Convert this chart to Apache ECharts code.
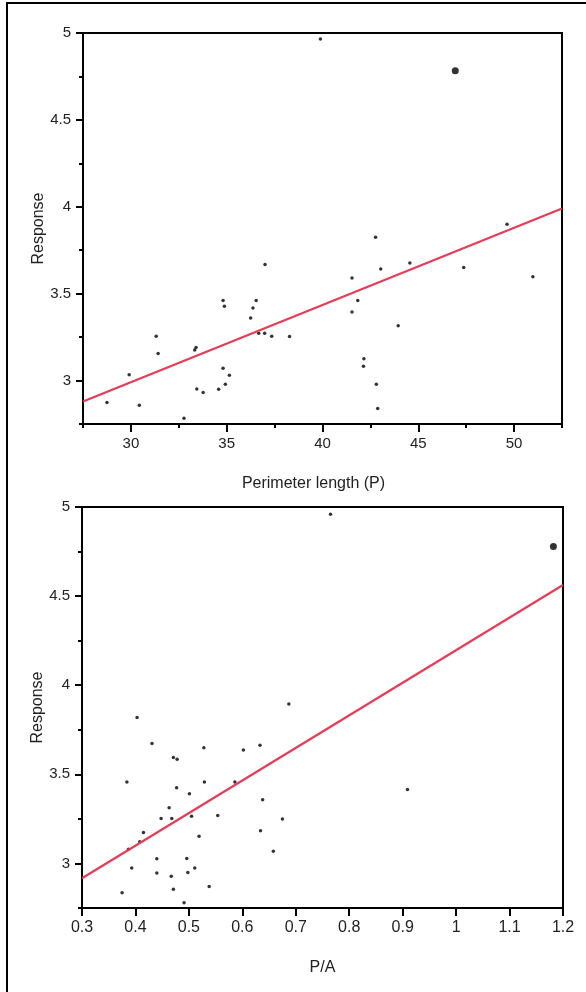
<!DOCTYPE html>
<html>
<head>
<meta charset="utf-8">
<script src="https://cdn.jsdelivr.net/npm/echarts@6/dist/echarts.min.js"></script>
<style>
html,body{margin:0;padding:0;background:#fff;}
#frame{position:absolute;left:6px;top:2px;width:700px;height:1100px;border:2px solid #000;box-sizing:border-box;}
#chart{position:absolute;left:0;top:0;width:586px;height:992px;}
</style>
</head>
<body>
<div id="frame"></div>
<div id="chart"></div>
<script>
// ---- Data ----
const perimeter = [28.75,29.91,30.44,31.32,31.42,32.77,33.33,33.40,33.44,33.77,34.58,34.81,34.88,34.81,34.93,35.14,36.25,36.37,36.54,36.67,36.98,37.00,37.35,38.28,41.54,41.54,41.84,42.16,42.14,42.77,43.04,42.81,42.88,43.95,44.56,47.37,49.63,50.98,39.89];
const responseTop = [2.874,3.033,2.858,3.255,3.155,2.783,3.176,3.19,2.952,2.931,2.95,3.46,3.427,3.071,2.979,3.03,3.36,3.418,3.461,3.272,3.272,3.668,3.255,3.253,3.59,3.395,3.461,3.126,3.082,3.824,3.642,2.979,2.839,3.316,3.676,3.651,3.90,3.598,4.966];
const outlierTop = [46.93, 4.783];
const fitTop = [[27.5, 2.879], [52.5, 3.99]];

const paRatio = [0.687,0.403,0.431,0.528,0.633,0.602,0.471,0.478,0.384,0.529,0.586,0.477,0.501,0.638,0.463,0.448,0.468,0.505,0.554,0.675,0.415,0.634,0.408,0.519,0.387,0.658,0.440,0.496,0.393,0.511,0.440,0.498,0.467,0.538,0.375,0.471,0.491,0.909,0.765];
const responseBottom = [3.894,3.819,3.673,3.649,3.663,3.637,3.594,3.584,3.457,3.457,3.457,3.425,3.391,3.357,3.312,3.252,3.252,3.265,3.269,3.25,3.173,3.184,3.122,3.152,3.079,3.068,3.026,3.028,2.975,2.975,2.947,2.949,2.928,2.87,2.836,2.855,2.78,3.415,4.959];
const outlierBottom = [1.182, 4.778];
const fitBottom = [[0.3, 2.917], [1.2, 4.562]];

const yMajor = [3, 3.5, 4, 4.5, 5];
const yMinor = [2.75, 3.25, 3.75, 4.25, 4.75];
const xTopMajor = [30, 35, 40, 45, 50];
const xTopMinor = [27.5, 32.5, 37.5, 42.5, 47.5, 52.5];
const xBottomTicks = [0.3, 0.4, 0.5, 0.6, 0.7, 0.8, 0.9, 1, 1.1, 1.2];

// ---- Chart ----
const FONT = '"Liberation Sans", Arial, Helvetica, sans-serif';
const chart = echarts.init(document.getElementById('chart'), null, {renderer: 'canvas'});

function yAxes(gridIndex) {
  return [
    {gridIndex, type: 'value', min: 2.75, max: 5, position: 'left',
     axisLine: {show: true, lineStyle: {color: '#000', width: 2}},
     axisTick: {show: true, customValues: yMajor, length: 7, lineStyle: {color: '#000', width: 2}},
     axisLabel: {customValues: yMajor, margin: 12, color: '#222', fontSize: 15, fontFamily: FONT},
     splitLine: {show: false},
     name: 'Response', nameLocation: 'middle', nameGap: 36, nameRotate: 90, nameMoveOverlap: false,
     nameTextStyle: {color: '#222', fontSize: 16, fontFamily: FONT}},
    {gridIndex, type: 'value', min: 2.75, max: 5, position: 'left',
     axisLine: {show: false},
     axisTick: {show: true, customValues: yMinor, length: 4, lineStyle: {color: '#000', width: 2}},
     axisLabel: {show: false},
     splitLine: {show: false}}
  ];
}

const option = {
  animation: false,
  backgroundColor: 'transparent',
  grid: [
    {left: 83, top: 33, width: 479, height: 391, show: true, borderColor: '#000', borderWidth: 2, backgroundColor: 'transparent'},
    {left: 82, top: 507, width: 481, height: 401, show: true, borderColor: '#000', borderWidth: 2, backgroundColor: 'transparent'}
  ],
  xAxis: [
    {gridIndex: 0, type: 'value', min: 27.5, max: 52.5, position: 'bottom',
     axisLine: {show: true, lineStyle: {color: '#000', width: 2}},
     axisTick: {show: true, customValues: xTopMajor, length: 8, lineStyle: {color: '#000', width: 2}},
     axisLabel: {customValues: xTopMajor, margin: 12, color: '#222', fontSize: 15, fontFamily: FONT},
     splitLine: {show: false},
     name: 'Perimeter length (P)', nameLocation: 'middle', nameGap: 52,
     nameTextStyle: {color: '#222', fontSize: 16, fontFamily: FONT, padding: [0, 18, 0, 0]}},
    {gridIndex: 0, type: 'value', min: 27.5, max: 52.5, position: 'bottom',
     axisLine: {show: false},
     axisTick: {show: true, customValues: xTopMinor, length: 4, lineStyle: {color: '#000', width: 2}},
     axisLabel: {show: false}, splitLine: {show: false}},
    {gridIndex: 1, type: 'value', min: 0.3, max: 1.2, position: 'bottom',
     axisLine: {show: true, lineStyle: {color: '#000', width: 2}},
     axisTick: {show: true, customValues: xBottomTicks, length: 8, lineStyle: {color: '#000', width: 2}},
     axisLabel: {customValues: xBottomTicks, showMinLabel: true, showMaxLabel: true, margin: 12, color: '#222', fontSize: 16, fontFamily: FONT},
     splitLine: {show: false},
     name: 'P/A', nameLocation: 'middle', nameGap: 52,
     nameTextStyle: {color: '#222', fontSize: 16, fontFamily: FONT}}
  ],
  yAxis: [...yAxes(0), ...yAxes(1)],
  series: [
    {type: 'line', xAxisIndex: 0, yAxisIndex: 0, data: fitTop, symbol: 'none', silent: true,
     lineStyle: {color: '#e63c55', width: 2.2}},
    {type: 'scatter', xAxisIndex: 0, yAxisIndex: 0, symbolSize: 3.5, itemStyle: {color: '#000'},
     data: perimeter.map((x, i) => [x, responseTop[i]])},
    {type: 'scatter', xAxisIndex: 0, yAxisIndex: 0, symbolSize: 7, itemStyle: {color: '#000'},
     data: [outlierTop]},
    {type: 'line', xAxisIndex: 2, yAxisIndex: 2, data: fitBottom, symbol: 'none', silent: true,
     lineStyle: {color: '#e63c55', width: 2.2}},
    {type: 'scatter', xAxisIndex: 2, yAxisIndex: 2, symbolSize: 3.5, itemStyle: {color: '#000'},
     data: paRatio.map((x, i) => [x, responseBottom[i]])},
    {type: 'scatter', xAxisIndex: 2, yAxisIndex: 2, symbolSize: 7, itemStyle: {color: '#000'},
     data: [outlierBottom]}
  ]
};
chart.setOption(option);
</script>
</body>
</html>
